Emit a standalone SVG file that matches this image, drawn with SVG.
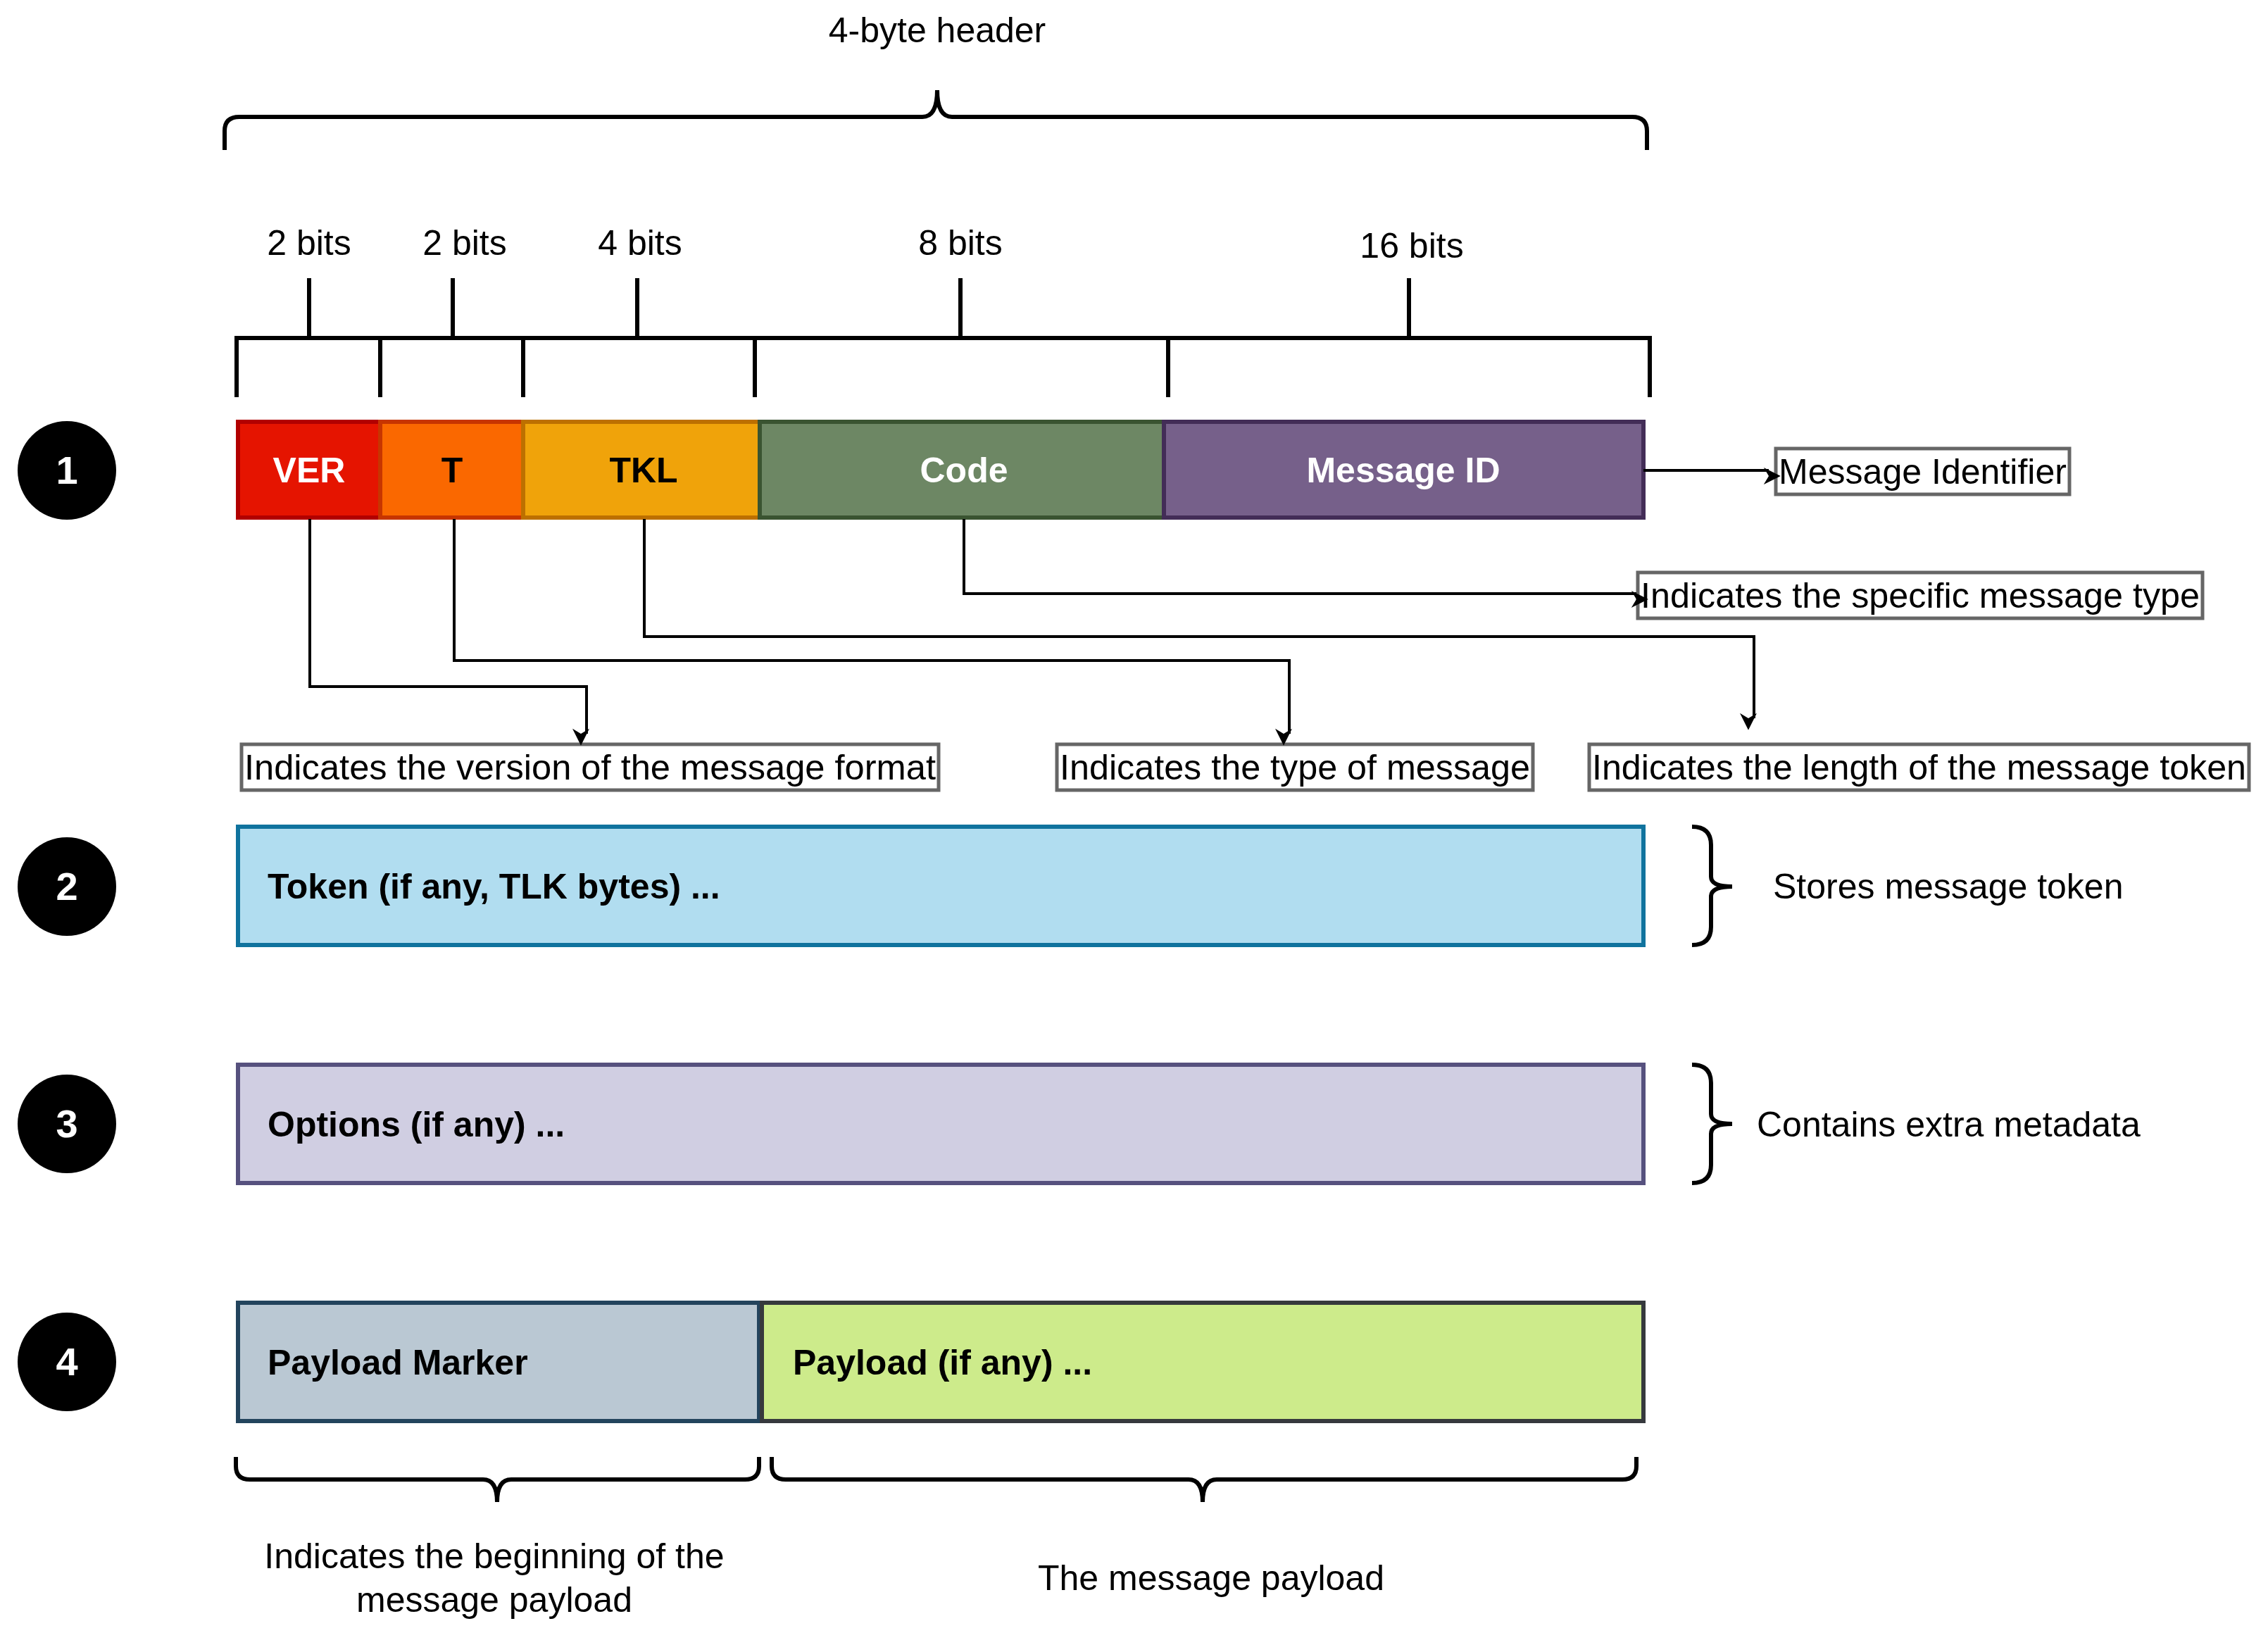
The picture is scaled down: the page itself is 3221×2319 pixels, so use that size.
<svg xmlns="http://www.w3.org/2000/svg" width="3221" height="2319" viewBox="0 0 3221 2319">
<style>
text{font-family:"Liberation Sans",Arial,sans-serif;fill:#000}
.t{font-size:50px}
.b{font-size:50px;font-weight:bold}
.w{fill:#fff}
.ln{fill:none;stroke:#000;stroke-width:6}
.cn{fill:none;stroke:#000;stroke-width:4}
.lb{fill:#fff;stroke:#666;stroke-width:5}
.br{fill:none;stroke:#000;stroke-width:6}
</style>
<defs>
<marker id="ah" viewBox="0 0 10 10" refX="9" refY="5" markerWidth="8" markerHeight="8" markerUnits="userSpaceOnUse" orient="auto" style="overflow:visible"><path d="M0,0 L10,5 L0,10 L3,5 Z" fill="#000" transform="scale(3)"/></marker>
</defs>
<rect width="3221" height="2319" fill="#fff"/>
<g id="header-brace">
<text class="t" x="1331" y="60" text-anchor="middle">4-byte header</text>
<path class="br" d="M319,213 V186 Q319,166 340,166 H1310 Q1331,166 1331,128 Q1331,166 1352,166 H2318 Q2339,166 2339,186 V213"/>
</g>
<g id="bit-ruler">
<text class="t" x="439" y="362" text-anchor="middle">2 bits</text>
<text class="t" x="660" y="362" text-anchor="middle">2 bits</text>
<text class="t" x="909" y="362" text-anchor="middle">4 bits</text>
<text class="t" x="1364" y="362" text-anchor="middle">8 bits</text>
<text class="t" x="2005" y="366" text-anchor="middle">16 bits</text>
<path class="ln" d="M336,564 V480 H2343 V564 M540,480 V564 M743,480 V564 M1072,480 V564 M1659,480 V564 M439,395 V480 M643,395 V480 M905,395 V480 M1364,395 V480 M2001,395 V480"/>
</g>
<g id="circle1"><circle cx="95" cy="668" r="70"/><text class="b w" x="95" y="687" text-anchor="middle" style="font-size:56px">1</text></g>
<g id="circle2"><circle cx="95" cy="1259" r="70"/><text class="b w" x="95" y="1278" text-anchor="middle" style="font-size:56px">2</text></g>
<g id="circle3"><circle cx="95" cy="1596" r="70"/><text class="b w" x="95" y="1615" text-anchor="middle" style="font-size:56px">3</text></g>
<g id="circle4"><circle cx="95" cy="1934" r="70"/><text class="b w" x="95" y="1953" text-anchor="middle" style="font-size:56px">4</text></g>
<g id="ver"><rect x="338" y="599" width="202" height="136" fill="#e51400" stroke="#b20000" stroke-width="6"/><text class="b w" x="439" y="685" text-anchor="middle">VER</text></g>
<g id="t"><rect x="540" y="599" width="203" height="136" fill="#fa6800" stroke="#c73500" stroke-width="6"/><text class="b" x="642" y="685" text-anchor="middle">T</text></g>
<g id="tkl"><rect x="743" y="599" width="336" height="136" fill="#f0a30a" stroke="#bd7000" stroke-width="6"/><text class="b" x="914" y="685" text-anchor="middle">TKL</text></g>
<g id="code"><rect x="1079" y="599" width="574" height="136" fill="#6d8764" stroke="#3a5431" stroke-width="6"/><text class="b w" x="1369" y="685" text-anchor="middle">Code</text></g>
<g id="msgid"><rect x="1653" y="599" width="681" height="136" fill="#76608a" stroke="#432d57" stroke-width="6"/><text class="b w" x="1993" y="685" text-anchor="middle">Message ID</text></g>
<g id="lbl-msgid"><rect class="lb" x="2522" y="637" width="417" height="65"/><text class="t" x="2526" y="687" textLength="409" lengthAdjust="spacingAndGlyphs">Message Identifier</text></g>
<g id="lbl-code"><rect class="lb" x="2326" y="813" width="802" height="65"/><text class="t" x="2330" y="863" textLength="794" lengthAdjust="spacingAndGlyphs">Indicates the specific message type</text></g>
<g id="lbl-ver"><rect class="lb" x="343" y="1057" width="990" height="65"/><text class="t" x="347" y="1107" textLength="982" lengthAdjust="spacingAndGlyphs">Indicates the version of the message format</text></g>
<g id="lbl-t"><rect class="lb" x="1501" y="1057" width="676" height="65"/><text class="t" x="1505" y="1107" textLength="668" lengthAdjust="spacingAndGlyphs">Indicates the type of message</text></g>
<g id="lbl-tkl"><rect class="lb" x="2257" y="1057" width="937" height="65"/><text class="t" x="2261" y="1107" textLength="929" lengthAdjust="spacingAndGlyphs">Indicates the length of the message token</text></g>
<g id="connectors">
<path class="cn" d="M2334,668 H2512" marker-end="url(#ah)"/>
<path class="cn" d="M1369,737 V843 H2324" marker-end="url(#ah)"/>
<path class="cn" d="M915,737 V904 H2491 V1020" marker-end="url(#ah)"/>
<path class="cn" d="M645,737 V938 H1831 V1042" marker-end="url(#ah)"/>
<path class="cn" d="M440,737 V975 H833 V1042" marker-end="url(#ah)"/>
</g>
<g id="token"><rect x="338" y="1174" width="1996" height="168" fill="#b1ddf0" stroke="#10739e" stroke-width="6"/><text class="b" x="380" y="1276">Token (if any, TLK bytes) ...</text></g>
<g id="token-note"><path class="br" d="M2403,1174 Q2430,1174 2430,1200 V1245 Q2430,1259 2460,1259 Q2430,1259 2430,1273 V1316 Q2430,1342 2403,1342"/><text class="t" x="2518" y="1276">Stores message token</text></g>
<g id="options"><rect x="338" y="1512" width="1996" height="168" fill="#d0cee2" stroke="#56517e" stroke-width="6"/><text class="b" x="380" y="1614">Options (if any) ...</text></g>
<g id="options-note"><path class="br" d="M2403,1512 Q2430,1512 2430,1538 V1582 Q2430,1596 2460,1596 Q2430,1596 2430,1610 V1654 Q2430,1680 2403,1680"/><text class="t" x="2495" y="1614">Contains extra metadata</text></g>
<g id="payload-marker"><rect x="338" y="1850" width="740" height="168" fill="#bac8d3" stroke="#23445d" stroke-width="6"/><text class="b" x="380" y="1952">Payload Marker</text></g>
<g id="payload"><rect x="1082" y="1850" width="1252" height="168" fill="#cdeb8b" stroke="#36393d" stroke-width="6"/><text class="b" x="1126" y="1952">Payload (if any) ...</text></g>
<g id="marker-note"><path class="br" d="M335,2069 V2082 Q335,2101 355,2101 H686 Q706,2101 706,2133 Q706,2101 726,2101 H1058 Q1078,2101 1078,2082 V2069"/><text class="t" text-anchor="middle" x="702" y="2227">Indicates the beginning of the</text><text class="t" text-anchor="middle" x="702" y="2289">message payload</text></g>
<g id="payload-note"><path class="br" d="M1096,2069 V2082 Q1096,2101 1116,2101 H1688 Q1708,2101 1708,2133 Q1708,2101 1728,2101 H2304 Q2324,2101 2324,2082 V2069"/><text class="t" text-anchor="middle" x="1720" y="2258">The message payload</text></g>
</svg>
